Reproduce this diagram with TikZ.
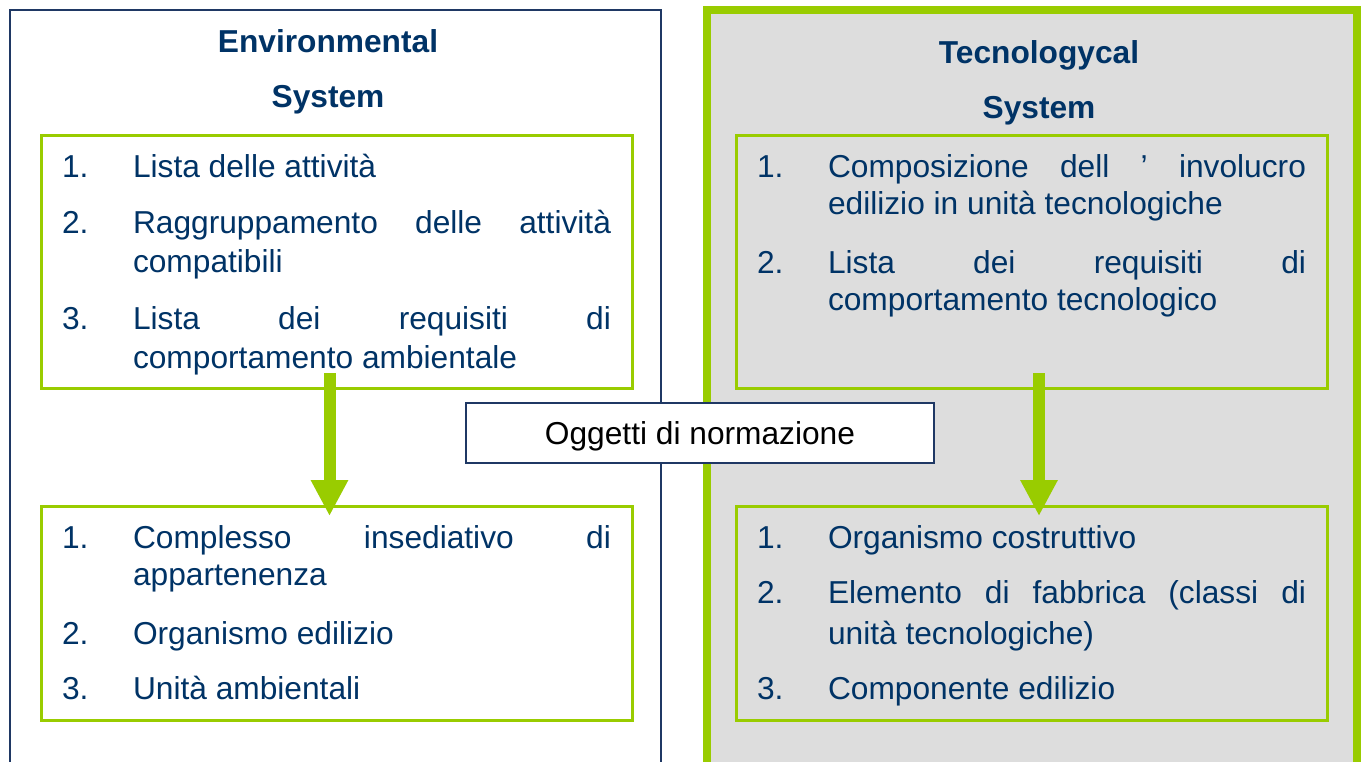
\documentclass[tikz,border=0pt]{standalone}
\usepackage{fontspec}
\setmainfont{Liberation Sans}
\usetikzlibrary{arrows.meta}
\definecolor{navy}{RGB}{0,51,102}
\definecolor{lime}{RGB}{153,204,0}
\definecolor{panelgray}{RGB}{221,221,221}
\definecolor{frameblue}{RGB}{31,56,100}
\newcommand{\jline}[1]{\makebox[478pt][s]{#1}}
\begin{document}
\begin{tikzpicture}[x=1pt,y=-1pt,
  txt/.style={font=\fontsize{31.7}{38}\selectfont, text=navy, inner sep=0pt, outer sep=0pt, anchor=base west},
  ttl/.style={font=\fontsize{31.7}{38}\selectfont\bfseries, text=navy, inner sep=0pt, outer sep=0pt, anchor=base},
  envframe/.style={draw=frameblue, line width=1.5pt, fill=white, inner sep=0pt, outer sep=0pt, anchor=north west},
  tecframe/.style={draw=lime, line width=8pt, fill=panelgray, inner sep=0pt, outer sep=0pt, anchor=north west},
  envlist/.style={draw=lime, line width=3pt, fill=white, inner sep=0pt, outer sep=0pt, anchor=north west, minimum width=591pt},
  teclist/.style={draw=lime, line width=3pt, inner sep=0pt, outer sep=0pt, anchor=north west, minimum width=591pt},
  flowarrow/.style={draw=lime, line width=12pt, -{Triangle[width=35pt,length=36pt]}},
  labelbox/.style={draw=frameblue, line width=1.5pt, fill=white, inner sep=0pt, outer sep=0pt,
    minimum width=468pt, minimum height=60pt, text height=22.7pt, text depth=0pt,
    font=\fontsize{31.7}{38}\selectfont, text=black}
]
\useasboundingbox (0,0) rectangle (1361,761);
\clip (0,0) rectangle (1361,761);

% outer frames
\node[envframe, minimum width=651pt, minimum height=800pt] (env) at (10,10) {};
\node[tecframe, minimum width=650pt, minimum height=800pt] (tec) at (707,10) {};

% titles
\node[ttl] (envt1) at (328,52) {Environmental};
\node[ttl] (envt2) at (328,107) {System};
\node[ttl] (tect1) at (1039,63) {Tecnologycal};
\node[ttl] (tect2) at (1039,118) {System};

% list boxes
\node[envlist, minimum height=253pt] (eb1) at (41,135) {};
\node[envlist, minimum height=214pt] (eb2) at (41,506) {};
\node[teclist, minimum height=253pt] (tb1) at (736,135) {};
\node[teclist, minimum height=214pt] (tb2) at (736,506) {};

% arrows
\draw[flowarrow] ([xshift=-7pt,yshift=15pt]eb1.south) -- ([xshift=-7pt,yshift=-10pt]eb2.north);
\draw[flowarrow] ([xshift=7.5pt,yshift=15pt]tb1.south) -- ([xshift=7.5pt,yshift=-10pt]tb2.north);

% label
\node[labelbox] (lab) at (700,433) {Oggetti di normazione};

% environmental list 1
\node[txt] (e1n1) at (62,177) {1.};
\node[txt] (e1t1) at (133,177) {Lista delle attività};
\node[txt] (e1n2) at (62,233) {2.};
\node[txt] (e1t2) at (133,233) {\jline{Raggruppamento delle attività}};
\node[txt] (e1t2b) at (133,272) {compatibili};
\node[txt] (e1n3) at (62,329) {3.};
\node[txt] (e1t3) at (133,329) {\jline{Lista dei requisiti di}};
\node[txt] (e1t3b) at (133,368) {comportamento ambientale};

% environmental list 2
\node[txt] (e2n1) at (62,548) {1.};
\node[txt] (e2t1) at (133,548) {\jline{Complesso insediativo di}};
\node[txt] (e2t1b) at (133,585) {appartenenza};
\node[txt] (e2n2) at (62,644) {2.};
\node[txt] (e2t2) at (133,644) {Organismo edilizio};
\node[txt] (e2n3) at (62,699) {3.};
\node[txt] (e2t3) at (133,699) {Unità ambientali};

% technological list 1
\node[txt] (t1n1) at (757,177) {1.};
\node[txt] (t1t1) at (828,177) {\jline{Composizione dell ’ involucro}};
\node[txt] (t1t1b) at (828,214) {edilizio in unità tecnologiche};
\node[txt] (t1n2) at (757,273) {2.};
\node[txt] (t1t2) at (828,273) {\jline{Lista dei requisiti di}};
\node[txt] (t1t2b) at (828,310) {comportamento tecnologico};

% technological list 2
\node[txt] (t2n1) at (757,548) {1.};
\node[txt] (t2t1) at (828,548) {Organismo costruttivo};
\node[txt] (t2n2) at (757,603) {2.};
\node[txt] (t2t2) at (828,603) {\jline{Elemento di fabbrica (classi di}};
\node[txt] (t2t2b) at (828,644) {unità tecnologiche)};
\node[txt] (t2n3) at (757,699) {3.};
\node[txt] (t2t3) at (828,699) {Componente edilizio};
\end{tikzpicture}
\end{document}
